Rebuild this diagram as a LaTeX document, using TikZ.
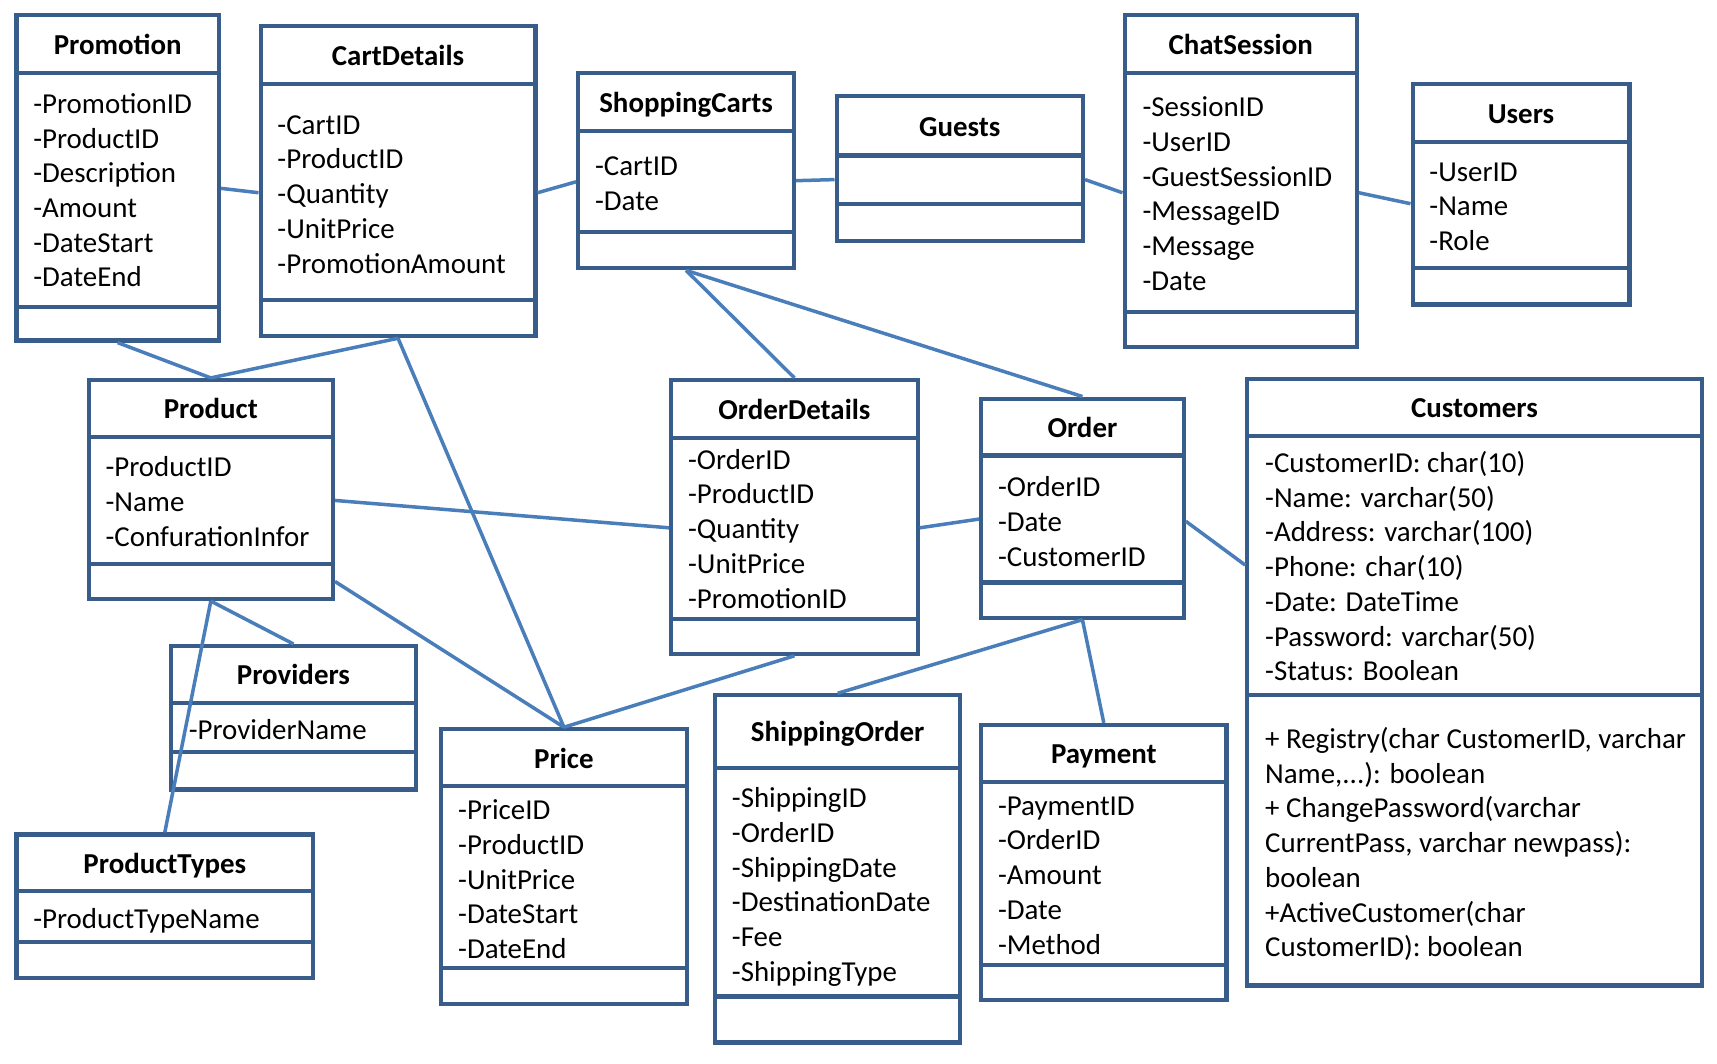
\documentclass[tikz,border=0pt]{standalone}
\usepackage{fontspec}
\setmainfont{Carlito}
\usetikzlibrary{fit,calc}
\definecolor{boxblue}{HTML}{385D8A}
\definecolor{lineblue}{HTML}{4A7EBB}
\newcommand{\tdots}{...}
\tikzset{
 clsbox/.style={draw=boxblue, line width=1.9pt, inner sep=0pt, rectangle},
 divline/.style={draw=boxblue, line width=1.9pt},
 clstitle/.style={font=\fontsize{13.2}{15.8}\selectfont\bfseries, inner sep=0pt, anchor=base},
 attr/.style={font=\fontsize{13.2}{15.8}\selectfont, inner sep=0pt, anchor=base west},
 conn/.style={draw=lineblue, line width=1.6pt},
}
\newcommand{\classbox}[8]{%
  \node[clsbox, fit={(#2,#3) (#4,#5)}] (#1) {};
  \draw[divline] (#2,#6) -- (#4,#6);
  \draw[divline] (#2,#7) -- (#4,#7);
  \node[clstitle] (#1-t) at ({(#2+#4)/2},{(#3+#6)/2+9.5}) {#8};
}
\newcommand{\attrlist}[4]{%
  \foreach \aitem [count=\ai from 0] in {#4} {
    \node[attr] (#1-a\ai) at (#2,{#3+9.5+31.7*\ai}) {\aitem};
  }
}
\begin{document}
\begin{tikzpicture}[x=0.5pt,y=-0.5pt]
\fill[white] (0,0) rectangle (1568,971);
\useasboundingbox (0,0) rectangle (1568,971);

\classbox{promo}{15}{14}{200}{311}{67}{280}{Promotion}
\attrlist{promo}{30}{94}{-PromotionID,-ProductID,-Description,-Amount,-DateStart,-DateEnd}

\classbox{cart}{238}{24}{489}{307}{77}{274}{CartDetails}
\attrlist{cart}{253}{113}{-CartID,-ProductID,-Quantity,-UnitPrice,-PromotionAmount}

\classbox{shop}{528}{67}{725}{245}{120}{212}{ShoppingCarts}
\attrlist{shop}{543}{151}{-CartID,-Date}

\classbox{guest}{764}{88}{989}{220}{142}{186}{Guests}

\classbox{chat}{1027}{14}{1239}{317}{67}{285}{ChatSession}
\attrlist{chat}{1043}{97}{-SessionID,-UserID,-GuestSessionID,-MessageID,-Message,-Date}

\classbox{users}{1290}{77}{1488}{278}{130}{245}{Users}
\attrlist{users}{1305}{156}{-UserID,-Name,-Role}

\classbox{prod}{81}{347}{304}{547}{399}{515}{Product}
\attrlist{prod}{96}{426}{-ProductID,-Name,-ConfurationInfor}

\classbox{odet}{613}{347}{838}{597}{400}{565}{OrderDetails}
\attrlist{odet}{628}{419}{-OrderID,-ProductID,-Quantity,-UnitPrice,-PromotionID}

\classbox{order}{896}{364}{1081}{564}{416}{532}{Order}
\attrlist{order}{911}{444}{-OrderID,-Date,-CustomerID}

\classbox{cust}{1139}{346}{1554}{900}{398}{635}{Customers}
\attrlist{cust}{1155}{422}{-CustomerID: char(10),-Name: varchar(50),-Address: varchar(100),-Phone: char(10),-Date: DateTime,-Password: varchar(50),-Status: Boolean}
\attrlist{custm}{1155}{674}{{+ Registry(char CustomerID, varchar},{Name,\tdots): boolean},{+ ChangePassword(varchar},{CurrentPass, varchar newpass):},boolean,{+ActiveCustomer(char},{CustomerID): boolean}}

\classbox{prov}{156}{590}{380}{721}{642}{687}{Providers}
\attrlist{prov}{172}{666}{-ProviderName}

\classbox{ptype}{15}{762}{286}{893}{814}{860}{ProductTypes}
\attrlist{ptype}{30}{838}{-ProductTypeName}

\classbox{price}{403}{666}{627}{917}{718}{884}{Price}
\attrlist{price}{418}{739}{-PriceID,-ProductID,-UnitPrice,-DateStart,-DateEnd}

\classbox{ship}{653}{635}{877}{952}{701}{910}{ShippingOrder}
\attrlist{ship}{668}{728}{-ShippingID,-OrderID,-ShippingDate,-DestinationDate,-Fee,-ShippingType}

\classbox{pay}{896}{662}{1120}{913}{714}{881}{Payment}
\attrlist{pay}{911}{735}{-PaymentID,-OrderID,-Amount,-Date,-Method}

% connectors
\draw[conn] ($(promo.east)+(0,9.5)$) -- ($(cart.west)+(0,10.5)$);
\draw[conn] ($(cart.east)+(0,10.5)$) -- ($(shop.west)+(0,10)$);
\draw[conn] ($(shop.east)+(0,9)$) -- ($(guest.west)+(0,10)$);
\draw[conn] ($(guest.east)+(0,10)$) -- ($(chat.west)+(0,10.5)$);
\draw[conn] ($(chat.east)+(0,10.5)$) -- ($(users.west)+(0,8.5)$);
\draw[conn] (promo.south) -- (prod.north);
\draw[conn] (cart.south) -- (prod.north);
\draw[conn] (cart.south) -- (price.north);
\draw[conn] (shop.south) -- (odet.north);
\draw[conn] (shop.south) -- (order.north);
\draw[conn] ($(prod.east)+(0,10)$) -- ($(odet.west)+(0,10)$);
\draw[conn] ($(prod.east)+(0,84)$) -- (price.north);
\draw[conn] (prod.south) -- (prov.north);
\draw[conn] (prod.south) -- (ptype.north);
\draw[conn] ($(odet.east)+(0,10)$) -- ($(order.west)+(0,10)$);
\draw[conn] (odet.south) -- (price.north);
\draw[conn] (order.south) -- (ship.north);
\draw[conn] (order.south) -- (pay.north);
\draw[conn] ($(order.east)+(0,12)$) -- ($(cust.west)+(0,-107)$);
\end{tikzpicture}
\end{document}
